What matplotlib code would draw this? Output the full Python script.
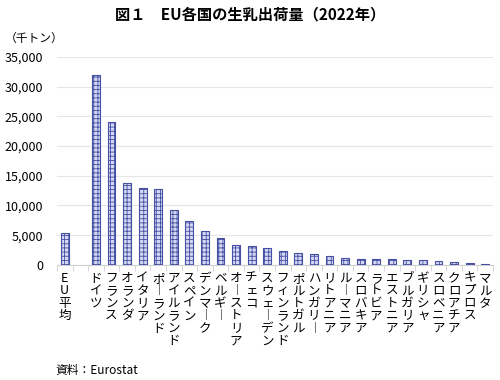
import numpy as np
import matplotlib.pyplot as plt

plt.rcParams['font.family'] = ['Noto Sans CJK JP', 'DejaVu Sans']
plt.rcParams['hatch.linewidth'] = 0.6

# 生乳出荷量（千トン）, 2022
countries = ["EU平均", "", "ドイツ", "フランス", "オランダ", "イタリア", "ポーランド",
             "アイルランド", "スペイン", "デンマーク", "ベルギー", "オーストリア", "チェコ",
             "スウェーデン", "フィンランド", "ポルトガル", "ハンガリー", "リトアニア",
             "ルーマニア", "スロバキア", "ラトビア", "エストニア", "ブルガリア", "ギリシャ",
             "スロベニア", "クロアチア", "キプロス", "マルタ"]
values = [5400, 0, 32000, 24000, 13800, 12900, 12800, 9200, 7400, 5700, 4500, 3300,
          3250, 2800, 2350, 1950, 1750, 1450, 1200, 950, 950, 950, 800, 800, 700,
          450, 280, 80]


def vertical(s):
    # 縦書き: 長音は縦棒に
    return "\n".join(s.replace("ー", "︱"))


fig = plt.figure(figsize=(5, 3.8), dpi=100)
ax = fig.add_axes([0.114, 0.303, 0.872, 0.547])

x = np.arange(len(countries))
mask = [c != "" for c in countries]
ax.bar(x[mask], np.array(values)[mask], width=0.5, color="#d3d7f3",
       edgecolor="#4650a3", hatch="++++", linewidth=0.8, zorder=3)

ax.set_xlim(-0.5, len(countries) - 0.5)
ax.set_ylim(0, 35000)
ax.set_yticks(range(0, 35001, 5000))
ax.set_yticklabels([f"{v:,}" for v in range(0, 35001, 5000)], fontsize=9)
ax.grid(axis="y", color="#e6e6e6", linewidth=0.8, zorder=0)

ax.set_xticks(x)
ax.set_xticklabels([vertical(c) for c in countries], fontsize=9, linespacing=0.95,
                   va="top")
ax.set_xticks(np.arange(-0.5, len(countries)), minor=True)
ax.tick_params(axis="x", which="major", length=0, pad=5)
ax.tick_params(axis="x", which="minor", length=4, color="#d0d0d0")
ax.tick_params(axis="y", length=0, pad=10)

for side in ["top", "right", "left"]:
    ax.spines[side].set_visible(False)
ax.spines["bottom"].set_color("#d0d0d0")

fig.text(0.5, 0.962, "図１　EU各国の生乳出荷量（2022年）", ha="center", va="center",
         fontsize=11, fontweight="bold")
fig.text(0.01, 0.9, "（千トン）", ha="left", va="center", fontsize=8.5)
fig.text(0.11, 0.026, "資料：Eurostat", ha="left", va="center", fontsize=8.5)

fig.savefig("out.png", dpi=100)
